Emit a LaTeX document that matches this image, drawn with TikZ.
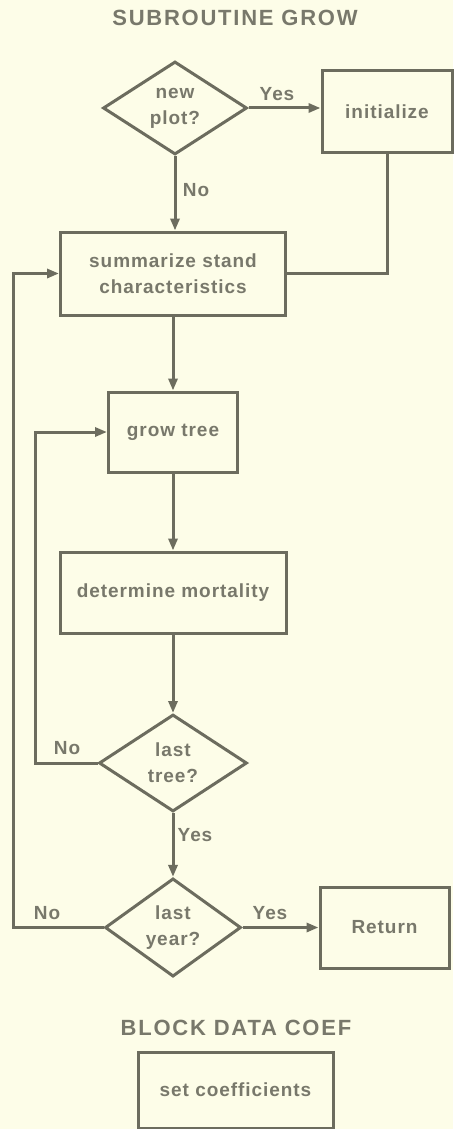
\documentclass[tikz,border=0pt]{standalone}
\usepackage{fontspec}
\setmainfont{Liberation Sans}
\newfontfamily\chartfont{Liberation Sans}[LetterSpace=5]
\newfontfamily\headfont{Liberation Sans}[LetterSpace=8]
\usetikzlibrary{shapes.geometric,arrows.meta}
\definecolor{paper}{HTML}{FDFDE8}
\definecolor{ink}{HTML}{6C6C5E}
\definecolor{txt}{HTML}{78786B}
\begin{document}
\begin{tikzpicture}[x=1pt,y=-1pt,
  every node/.style={text=txt},
  base/.style={font=\chartfont\bfseries\fontsize{19}{26}\selectfont},
  procbox/.style={base,draw=ink,line width=3pt,rectangle,align=center,inner sep=0pt},
  decision/.style={base,draw=ink,line width=3pt,diamond,align=center,inner sep=0pt},
  flow/.style={draw=ink,line width=3pt,-{Triangle[length=12pt,width=9pt]}},
  plain/.style={draw=ink,line width=3pt},
  lbl/.style={base,inner sep=0pt},
  heading/.style={font=\headfont\bfseries\fontsize{22}{24}\selectfont,inner sep=0pt}]
  \fill[paper] (0,0) rectangle (453,1129);
  \useasboundingbox (0,0) rectangle (453,1129);

  % titles
  \node[heading] (title1) at (235,18) {SUBROUTINE GROW};
  \node[heading] (title2) at (236,1028) {BLOCK DATA COEF};

  % main flow
  \node[decision,minimum width=144pt,minimum height=93pt] (newplot) at (175,108) {new\\plot?};
  \node[procbox,minimum width=130pt,minimum height=81pt] (init) at (387,111.5) {initialize};
  \node[procbox,minimum width=225pt,minimum height=83pt] (summ) at (173,273.5) {summarize stand\\characteristics};
  \node[procbox,minimum width=129pt,minimum height=80pt] (grow) at (173,432) {grow tree};
  \node[procbox,minimum width=226pt,minimum height=81pt] (mort) at (173,592.5) {determine mortality};
  \node[decision,minimum width=148pt,minimum height=97pt] (lasttree) at (173,763) {last\\tree?};
  \node[decision,minimum width=136pt,minimum height=91pt] (lastyear) at (173,927.5) {last\\year?};
  \node[procbox,minimum width=129pt,minimum height=81pt] (ret) at (384.5,927.5) {Return};
  \node[procbox,minimum width=195pt,minimum height=76pt] (coef) at (235.5,1090) {set coefficients};

  % loop corners
  \coordinate (treeloop) at (35,763);
  \coordinate (yearloop) at (13,927.5);

  % connectors
  \draw[flow] (newplot.east) -- (newplot.east -| init.west);
  \draw[flow] (newplot.south) -- (newplot.south |- summ.north);
  \draw[plain] (init.south) |- (summ.east);
  \draw[flow] (summ.south) -- (grow.north);
  \draw[flow] (grow.south) -- (mort.north);
  \draw[flow] (mort.south) -- (lasttree.north);
  \draw[flow] (lasttree.west) -- (treeloop) |- (grow.west);
  \draw[flow] (lasttree.south) -- (lastyear.north);
  \draw[flow] (lastyear.east) -- (ret.west);
  \draw[flow] (lastyear.west) -- (yearloop) |- (summ.west);

  % branch labels
  \node[lbl] (yes1) at (277,94) {Yes};
  \node[lbl] (no1) at (196,190) {No};
  \node[lbl] (no2) at (67,748) {No};
  \node[lbl] (yes2) at (195,835) {Yes};
  \node[lbl] (no3) at (47,913) {No};
  \node[lbl] (yes3) at (270,913) {Yes};
\end{tikzpicture}
\end{document}
